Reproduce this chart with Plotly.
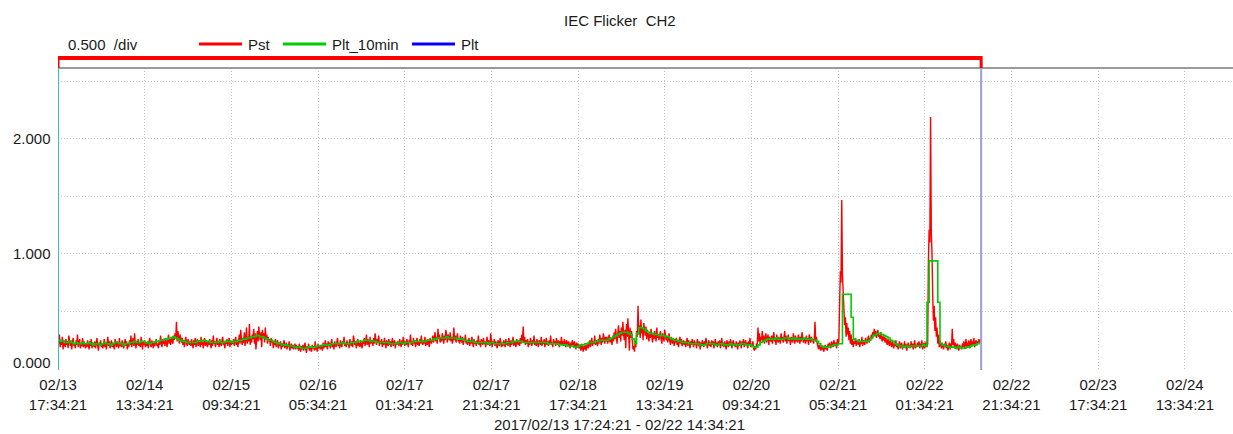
import pandas as pd
import plotly.graph_objects as go

# ---------------------------------------------------------------- data
START = "2017-02-13 17:34:21"          # first 10-minute Pst value
PERIOD_TEXT = "2017/02/13 17:24:21 - 02/22 14:34:21"
TITLE = "IEC Flicker\u00a0\u00a0CH2"
SCALE_TEXT = "0.500\u00a0\u00a0/div"

# Pst, one value every 10 minutes, grouped by calendar day
pst_0213 = [
    0.27, 0.22, 0.30, 0.19, 0.24, 0.21, 0.28, 0.17, 0.25, 0.22, 0.19, 0.26,
    0.21, 0.24, 0.18, 0.29, 0.22, 0.20, 0.25, 0.17, 0.23, 0.27, 0.20, 0.22,
    0.18, 0.25, 0.21, 0.30, 0.19, 0.23, 0.26, 0.18, 0.22, 0.20, 0.27, 0.19,
    0.24, 0.21, 0.18,
]
pst_0214 = [
    0.22, 0.19, 0.25, 0.21, 0.17, 0.24, 0.20, 0.26, 0.18, 0.23, 0.21, 0.19,
    0.24, 0.18, 0.22, 0.27, 0.20, 0.16, 0.23, 0.21, 0.25, 0.19, 0.22, 0.18,
    0.21, 0.26, 0.19, 0.23, 0.17, 0.22, 0.28, 0.20, 0.24, 0.18, 0.21, 0.25,
    0.19, 0.23, 0.20, 0.17, 0.26, 0.22, 0.19, 0.24, 0.21, 0.18, 0.27, 0.20,
    0.23, 0.19, 0.25, 0.21, 0.18, 0.22, 0.26, 0.20, 0.24, 0.17, 0.22, 0.19,
    0.25, 0.21, 0.29, 0.19, 0.23, 0.27, 0.20, 0.31, 0.22, 0.18, 0.24, 0.21,
    0.26, 0.20, 0.23, 0.19, 0.28, 0.22, 0.17, 0.24, 0.21, 0.25, 0.19, 0.22,
    0.20, 0.24, 0.18, 0.23, 0.27, 0.21, 0.19, 0.25, 0.22, 0.18, 0.24, 0.20,
    0.23, 0.26, 0.20, 0.22, 0.18, 0.25, 0.21, 0.29, 0.23, 0.19, 0.26, 0.22,
    0.24, 0.20, 0.27, 0.23, 0.19, 0.25, 0.30, 0.22, 0.26, 0.21, 0.28, 0.24,
    0.22, 0.29, 0.25, 0.31, 0.27, 0.41, 0.24, 0.33, 0.26, 0.22, 0.30, 0.25,
    0.23, 0.27, 0.21, 0.25, 0.19, 0.24, 0.28, 0.22, 0.20, 0.26, 0.23, 0.21,
]
pst_0215 = [
    0.24, 0.20, 0.26, 0.22, 0.18, 0.25, 0.21, 0.27, 0.19, 0.23, 0.26, 0.20,
    0.22, 0.25, 0.19, 0.28, 0.21, 0.24, 0.18, 0.23, 0.27, 0.20, 0.25, 0.22,
    0.19, 0.24, 0.21, 0.26, 0.23, 0.18, 0.25, 0.20, 0.29, 0.22, 0.24, 0.19,
    0.23, 0.27, 0.21, 0.24, 0.19, 0.26, 0.22, 0.20, 0.25, 0.28, 0.21, 0.23,
    0.18, 0.24, 0.22, 0.26, 0.20, 0.23, 0.27, 0.19, 0.25, 0.21, 0.24, 0.22,
    0.26, 0.20, 0.23, 0.28, 0.21, 0.25, 0.19, 0.24, 0.30, 0.22, 0.34, 0.25,
    0.21, 0.27, 0.23, 0.32, 0.20, 0.26, 0.36, 0.22, 0.28, 0.24, 0.39, 0.21,
    0.27, 0.23, 0.30, 0.26, 0.35, 0.22, 0.31, 0.17, 0.28, 0.33, 0.24, 0.37,
    0.29, 0.25, 0.32, 0.19, 0.34, 0.27, 0.31, 0.23, 0.36, 0.26, 0.30, 0.22,
    0.28, 0.24, 0.26, 0.20, 0.27, 0.23, 0.25, 0.18, 0.24, 0.21, 0.26, 0.19,
    0.22, 0.25, 0.18, 0.23, 0.20, 0.24, 0.17, 0.22, 0.19, 0.21, 0.25, 0.18,
    0.20, 0.23, 0.17, 0.21, 0.19, 0.24, 0.16, 0.20, 0.22, 0.18, 0.21, 0.17,
]
pst_0216 = [
    0.19, 0.22, 0.17, 0.21, 0.18, 0.20, 0.16, 0.22, 0.18, 0.15, 0.20, 0.17,
    0.21, 0.16, 0.19, 0.23, 0.17, 0.14, 0.20, 0.18, 0.22, 0.16, 0.19, 0.17,
    0.15, 0.21, 0.18, 0.20, 0.16, 0.24, 0.17, 0.19, 0.15, 0.22, 0.18, 0.20,
    0.17, 0.21, 0.19, 0.16, 0.23, 0.18, 0.20, 0.25, 0.19, 0.22, 0.17, 0.24,
    0.20, 0.23, 0.18, 0.21, 0.26, 0.19, 0.22, 0.17, 0.24, 0.21, 0.19, 0.23,
    0.27, 0.20, 0.22, 0.18, 0.25, 0.21, 0.19, 0.24, 0.22, 0.28, 0.20, 0.23,
    0.19, 0.25, 0.21, 0.23, 0.18, 0.26, 0.22, 0.20, 0.24, 0.19, 0.29, 0.22,
    0.21, 0.24, 0.18, 0.22, 0.26, 0.20, 0.23, 0.19, 0.25, 0.21, 0.18, 0.24,
    0.22, 0.27, 0.20, 0.24, 0.30, 0.21, 0.26, 0.23, 0.19, 0.28, 0.22, 0.25,
    0.24, 0.20, 0.27, 0.22, 0.31, 0.25, 0.21, 0.26, 0.23, 0.29, 0.20, 0.24,
    0.22, 0.26, 0.19, 0.24, 0.21, 0.27, 0.23, 0.18, 0.25, 0.22, 0.20, 0.26,
    0.21, 0.24, 0.19, 0.23, 0.27, 0.20, 0.22, 0.25, 0.18, 0.23, 0.21, 0.24,
]
pst_0217 = [
    0.23, 0.20, 0.26, 0.22, 0.19, 0.25, 0.21, 0.28, 0.23, 0.20, 0.24, 0.21,
    0.26, 0.22, 0.19, 0.25, 0.23, 0.30, 0.21, 0.24, 0.20, 0.27, 0.22, 0.25,
    0.19, 0.23, 0.27, 0.21, 0.24, 0.20, 0.26, 0.22, 0.29, 0.23, 0.21, 0.25,
    0.22, 0.28, 0.20, 0.24, 0.21, 0.26, 0.23, 0.19, 0.27, 0.24, 0.22, 0.25,
    0.29, 0.23, 0.26, 0.32, 0.24, 0.28, 0.22, 0.35, 0.26, 0.30, 0.23, 0.27,
    0.24, 0.31, 0.27, 0.22, 0.29, 0.25, 0.34, 0.26, 0.23, 0.30, 0.27, 0.25,
    0.32, 0.24, 0.28, 0.22, 0.26, 0.36, 0.25, 0.29, 0.23, 0.27, 0.31, 0.24,
    0.26, 0.22, 0.29, 0.25, 0.23, 0.28, 0.21, 0.26, 0.24, 0.30, 0.22, 0.25,
    0.21, 0.24, 0.27, 0.20, 0.25, 0.22, 0.28, 0.23, 0.19, 0.26, 0.22, 0.24,
    0.20, 0.25, 0.22, 0.29, 0.21, 0.24, 0.19, 0.26, 0.23, 0.21, 0.27, 0.22,
    0.24, 0.19, 0.23, 0.28, 0.21, 0.25, 0.22, 0.20, 0.31, 0.23, 0.19, 0.24,
    0.22, 0.26, 0.20, 0.24, 0.21, 0.18, 0.25, 0.23, 0.20, 0.27, 0.22, 0.19,
]
pst_0218 = [
    0.23, 0.20, 0.25, 0.22, 0.19, 0.26, 0.21, 0.24, 0.20, 0.27, 0.22, 0.19,
    0.25, 0.21, 0.23, 0.28, 0.20, 0.24, 0.22, 0.19, 0.26, 0.23, 0.21, 0.25,
    0.20, 0.27, 0.22, 0.30, 0.24, 0.37, 0.23, 0.28, 0.21, 0.25, 0.22, 0.26,
    0.19, 0.24, 0.21, 0.27, 0.23, 0.20, 0.25, 0.22, 0.29, 0.21, 0.24, 0.20,
    0.26, 0.22, 0.19, 0.25, 0.23, 0.21, 0.28, 0.20, 0.24, 0.22, 0.26, 0.19,
    0.23, 0.27, 0.21, 0.24, 0.20, 0.25, 0.22, 0.29, 0.21, 0.23, 0.19, 0.26,
    0.22, 0.24, 0.20, 0.27, 0.23, 0.21, 0.25, 0.19, 0.24, 0.22, 0.28, 0.21,
    0.24, 0.20, 0.26, 0.22, 0.19, 0.25, 0.23, 0.20, 0.24, 0.21, 0.18, 0.23,
    0.20, 0.25, 0.22, 0.19, 0.24, 0.21, 0.17, 0.23, 0.20, 0.22, 0.18, 0.21,
    0.19, 0.16, 0.22, 0.18, 0.15, 0.20, 0.17, 0.21, 0.16, 0.19, 0.23, 0.18,
    0.21, 0.25, 0.19, 0.23, 0.27, 0.20, 0.24, 0.22, 0.29, 0.21, 0.25, 0.23,
    0.20, 0.26, 0.22, 0.30, 0.24, 0.21, 0.27, 0.23, 0.31, 0.25, 0.22, 0.28,
]
pst_0219 = [
    0.24, 0.28, 0.22, 0.26, 0.30, 0.23, 0.27, 0.25, 0.21, 0.29, 0.24, 0.32,
    0.26, 0.35, 0.28, 0.22, 0.31, 0.38, 0.27, 0.33, 0.24, 0.36, 0.29, 0.41,
    0.30, 0.25, 0.34, 0.18, 0.39, 0.28, 0.44, 0.31, 0.16, 0.36, 0.27, 0.33,
    0.22, 0.17, 0.20, 0.15, 0.24, 0.19, 0.33, 0.28, 0.55, 0.30, 0.38, 0.27,
    0.43, 0.31, 0.36, 0.25, 0.40, 0.33, 0.29, 0.37, 0.26, 0.34, 0.30, 0.24,
    0.32, 0.27, 0.35, 0.29, 0.23, 0.31, 0.26, 0.33, 0.28, 0.24, 0.36, 0.27,
    0.30, 0.25, 0.29, 0.33, 0.26, 0.22, 0.31, 0.27, 0.24, 0.34, 0.28, 0.25,
    0.29, 0.23, 0.26, 0.31, 0.24, 0.21, 0.28, 0.25, 0.22, 0.27, 0.20, 0.26,
    0.23, 0.27, 0.21, 0.25, 0.19, 0.24, 0.28, 0.22, 0.26, 0.20, 0.23, 0.25,
    0.21, 0.24, 0.19, 0.23, 0.27, 0.20, 0.25, 0.22, 0.18, 0.24, 0.21, 0.26,
    0.22, 0.19, 0.25, 0.21, 0.23, 0.18, 0.26, 0.22, 0.20, 0.24, 0.17, 0.23,
    0.20, 0.25, 0.22, 0.19, 0.24, 0.21, 0.27, 0.23, 0.18, 0.22, 0.25, 0.20,
]
pst_0220 = [
    0.23, 0.19, 0.25, 0.21, 0.24, 0.18, 0.22, 0.26, 0.20, 0.23, 0.19, 0.24,
    0.21, 0.25, 0.18, 0.22, 0.27, 0.20, 0.23, 0.19, 0.24, 0.21, 0.17, 0.25,
    0.22, 0.19, 0.24, 0.20, 0.26, 0.21, 0.18, 0.23, 0.25, 0.20, 0.22, 0.19,
    0.24, 0.21, 0.17, 0.23, 0.20, 0.25, 0.22, 0.18, 0.24, 0.21, 0.26, 0.19,
    0.22, 0.25, 0.20, 0.23, 0.18, 0.24, 0.21, 0.27, 0.19, 0.22, 0.20, 0.24,
    0.18, 0.16, 0.20, 0.17, 0.22, 0.19, 0.36, 0.24, 0.31, 0.22, 0.28, 0.25,
    0.33, 0.24, 0.29, 0.22, 0.27, 0.31, 0.23, 0.26, 0.30, 0.21, 0.28, 0.25,
    0.24, 0.29, 0.22, 0.27, 0.32, 0.24, 0.26, 0.21, 0.30, 0.25, 0.23, 0.28,
    0.26, 0.22, 0.31, 0.25, 0.28, 0.23, 0.27, 0.33, 0.24, 0.29, 0.22, 0.26,
    0.30, 0.24, 0.27, 0.21, 0.28, 0.25, 0.23, 0.31, 0.26, 0.22, 0.29, 0.24,
    0.27, 0.23, 0.30, 0.25, 0.22, 0.28, 0.24, 0.32, 0.26, 0.23, 0.27, 0.25,
    0.22, 0.29, 0.24, 0.27, 0.21, 0.30, 0.25, 0.23, 0.28, 0.24, 0.26, 0.22,
]
pst_0221 = [
    0.26, 0.41, 0.24, 0.28, 0.22, 0.20, 0.17, 0.21, 0.18, 0.16, 0.20, 0.17,
    0.19, 0.15, 0.18, 0.21, 0.17, 0.20, 0.16, 0.22, 0.19, 0.23, 0.20, 0.18,
    0.24, 0.21, 0.19, 0.25, 0.22, 0.20, 0.23, 0.18, 0.26, 0.21, 0.24, 0.55,
    0.85, 0.75, 1.47, 0.82, 0.70, 0.50, 0.38, 0.45, 0.28, 0.40, 0.30, 0.36,
    0.25, 0.33, 0.22, 0.30, 0.21, 0.26, 0.19, 0.24, 0.22, 0.27, 0.20, 0.25,
    0.23, 0.21, 0.26, 0.19, 0.24, 0.22, 0.28, 0.20, 0.25, 0.23, 0.21, 0.27,
    0.24, 0.22, 0.26, 0.29, 0.23, 0.27, 0.25, 0.30, 0.26, 0.32, 0.28, 0.35,
    0.29, 0.33, 0.27, 0.31, 0.34, 0.28, 0.30, 0.26, 0.32, 0.27, 0.24, 0.29,
    0.25, 0.28, 0.23, 0.27, 0.24, 0.21, 0.26, 0.23, 0.20, 0.25, 0.22, 0.19,
    0.24, 0.21, 0.18, 0.23, 0.20, 0.25, 0.19, 0.22, 0.17, 0.21, 0.24, 0.18,
    0.20, 0.23, 0.17, 0.21, 0.19, 0.24, 0.18, 0.22, 0.16, 0.20, 0.23, 0.19,
    0.21, 0.18, 0.24, 0.19, 0.22, 0.17, 0.20, 0.25, 0.18, 0.21, 0.19, 0.23,
]
pst_0222 = [
    0.20, 0.24, 0.18, 0.22, 0.19, 0.25, 0.17, 0.21, 0.23, 0.18, 0.20, 0.24,
    0.19, 0.22, 0.95, 1.21, 1.10, 2.19, 1.18, 1.00, 0.62, 0.42, 0.55, 0.33,
    0.45, 0.28, 0.36, 0.22, 0.30, 0.19, 0.25, 0.21, 0.18, 0.23, 0.20, 0.17,
    0.22, 0.19, 0.24, 0.18, 0.21, 0.16, 0.20, 0.23, 0.17, 0.22, 0.19, 0.35,
    0.21, 0.26, 0.18, 0.23, 0.20, 0.17, 0.22, 0.19, 0.16, 0.21, 0.18, 0.20,
    0.17, 0.22, 0.19, 0.24, 0.18, 0.21, 0.26, 0.19, 0.23, 0.20, 0.25, 0.18,
    0.22, 0.26, 0.20, 0.24, 0.21, 0.27, 0.19, 0.23, 0.25, 0.21, 0.24, 0.22,
    0.26, 0.23, 0.25, 0.24,
]

# Plt_10min, one value every 30 minutes, grouped by calendar day
plt10_0213 = [0.25, 0.24, 0.24, 0.23, 0.23, 0.24, 0.23, 0.22, 0.23, 0.22, 0.22, 0.23, 0.22]
plt10_0214 = [
    0.22, 0.23, 0.22, 0.21, 0.22, 0.22, 0.21, 0.22, 0.23, 0.22, 0.22, 0.21,
    0.22, 0.23, 0.23, 0.22, 0.22, 0.21, 0.22, 0.22, 0.23, 0.23, 0.24, 0.23,
    0.23, 0.24, 0.24, 0.23, 0.23, 0.22, 0.23, 0.23, 0.24, 0.24, 0.25, 0.25,
    0.26, 0.26, 0.27, 0.27, 0.28, 0.27, 0.26, 0.25, 0.24, 0.24, 0.23, 0.23,
]
plt10_0215 = [
    0.23, 0.23, 0.23, 0.24, 0.24, 0.25, 0.25, 0.24, 0.24, 0.23, 0.23, 0.23,
    0.23, 0.24, 0.23, 0.23, 0.24, 0.24, 0.24, 0.23, 0.24, 0.24, 0.25, 0.25,
    0.26, 0.26, 0.27, 0.27, 0.28, 0.28, 0.29, 0.29, 0.28, 0.28, 0.27, 0.26,
    0.25, 0.25, 0.24, 0.23, 0.22, 0.22, 0.21, 0.21, 0.21, 0.20, 0.20, 0.20,
]
plt10_0216 = [
    0.19, 0.19, 0.19, 0.18, 0.18, 0.18, 0.19, 0.19, 0.19, 0.19, 0.20, 0.20,
    0.20, 0.21, 0.21, 0.21, 0.21, 0.22, 0.22, 0.22, 0.22, 0.22, 0.23, 0.22,
    0.22, 0.22, 0.23, 0.23, 0.23, 0.24, 0.24, 0.24, 0.25, 0.25, 0.25, 0.24,
    0.24, 0.24, 0.23, 0.23, 0.23, 0.23, 0.23, 0.23, 0.22, 0.22, 0.22, 0.22,
]
plt10_0217 = [
    0.23, 0.23, 0.22, 0.23, 0.23, 0.23, 0.23, 0.24, 0.24, 0.24, 0.24, 0.24,
    0.24, 0.25, 0.25, 0.25, 0.26, 0.26, 0.27, 0.27, 0.27, 0.27, 0.28, 0.27,
    0.27, 0.27, 0.27, 0.26, 0.26, 0.26, 0.25, 0.25, 0.24, 0.24, 0.24, 0.23,
    0.23, 0.23, 0.23, 0.23, 0.23, 0.22, 0.23, 0.23, 0.22, 0.22, 0.22, 0.22,
]
plt10_0218 = [
    0.22, 0.22, 0.23, 0.23, 0.23, 0.24, 0.24, 0.24, 0.24, 0.23, 0.23, 0.23,
    0.23, 0.23, 0.23, 0.23, 0.23, 0.23, 0.23, 0.23, 0.23, 0.22, 0.22, 0.22,
    0.22, 0.22, 0.21, 0.21, 0.21, 0.21, 0.20, 0.20, 0.20, 0.19, 0.19, 0.20,
    0.21, 0.21, 0.22, 0.22, 0.23, 0.23, 0.23, 0.24, 0.24, 0.25, 0.25, 0.25,
]
plt10_0219 = [
    0.25, 0.26, 0.27, 0.28, 0.29, 0.30, 0.31, 0.32, 0.32, 0.32, 0.31, 0.30,
    0.26, 0.22, 0.31, 0.36, 0.36, 0.35, 0.33, 0.32, 0.31, 0.31, 0.30, 0.30,
    0.29, 0.29, 0.29, 0.28, 0.28, 0.27, 0.26, 0.25, 0.25, 0.24, 0.24, 0.23,
    0.23, 0.23, 0.22, 0.22, 0.22, 0.22, 0.22, 0.21, 0.21, 0.21, 0.22, 0.22,
]
plt10_0220 = [
    0.22, 0.22, 0.21, 0.21, 0.22, 0.22, 0.21, 0.21, 0.21, 0.22, 0.21, 0.21,
    0.21, 0.21, 0.22, 0.22, 0.21, 0.21, 0.21, 0.20, 0.19, 0.19, 0.21, 0.23,
    0.24, 0.25, 0.26, 0.26, 0.26, 0.26, 0.27, 0.26, 0.26, 0.26, 0.27, 0.27,
    0.26, 0.26, 0.27, 0.26, 0.26, 0.26, 0.26, 0.27, 0.26, 0.26, 0.26, 0.25,
]
plt10_0221 = [
    0.25, 0.24, 0.22, 0.20, 0.19, 0.19, 0.19, 0.20, 0.20, 0.21, 0.21, 0.22,
    0.22, 0.65, 0.65, 0.65, 0.65, 0.45, 0.26, 0.25, 0.24, 0.24, 0.24, 0.24,
    0.24, 0.25, 0.27, 0.29, 0.30, 0.31, 0.31, 0.30, 0.29, 0.28, 0.27, 0.25,
    0.24, 0.22, 0.21, 0.20, 0.20, 0.19, 0.20, 0.19, 0.20, 0.20, 0.20, 0.20,
]
plt10_0222 = [
    0.20, 0.20, 0.21, 0.20, 0.58, 0.94, 0.94, 0.94, 0.94, 0.58, 0.22, 0.21,
    0.20, 0.20, 0.19, 0.19, 0.19, 0.18, 0.19, 0.19, 0.18, 0.18, 0.19, 0.19,
    0.20, 0.21, 0.21, 0.22, 0.23, 0.24,
]

# Plt (2-hour) has no values inside this window
plt_values = []

x_tick_labels = [
    "02/13<br>17:34:21", "02/14<br>13:34:21", "02/15<br>09:34:21",
    "02/16<br>05:34:21", "02/17<br>01:34:21", "02/17<br>21:34:21",
    "02/18<br>17:34:21", "02/19<br>13:34:21", "02/20<br>09:34:21",
    "02/21<br>05:34:21", "02/22<br>01:34:21", "02/22<br>21:34:21",
    "02/23<br>17:34:21", "02/24<br>13:34:21",
]
y_grid_values = [0.0, 0.5, 1.0, 1.5, 2.0, 2.5]
y_label_values = [0.0, 1.0, 2.0]

# ---------------------------------------------------------------- series
pst = (pst_0213 + pst_0214 + pst_0215 + pst_0216 + pst_0217 + pst_0218
       + pst_0219 + pst_0220 + pst_0221 + pst_0222)
plt10 = (plt10_0213 + plt10_0214 + plt10_0215 + plt10_0216 + plt10_0217
         + plt10_0218 + plt10_0219 + plt10_0220 + plt10_0221 + plt10_0222)

pst_time = pd.date_range(START, periods=len(pst), freq="10min")
plt10_time = pd.date_range(START, periods=len(plt10), freq="30min")
tick_time = pd.date_range(START, periods=len(x_tick_labels), freq="20h")
data_start, data_end = pst_time[0], pst_time[-1]

# ---------------------------------------------------------------- layout
W, H = 1233, 434
ML, MR, MT, MB = 58, 0, 68, 64
PW, PH = W - ML - MR, H - MT - MB
FONT = "Liberation Sans, Arial, sans-serif"
TXT = "#1a1a1a"


def px_x(px):
    return (px - ML) / PW


def px_y(py):
    return (H - MB - py) / PH


RED, GREEN, BLUE = "#ff0000", "#00cc00", "#0000ff"

fig = go.Figure()
fig.add_trace(go.Scatter(x=pst_time, y=pst, mode="lines", name="Pst",
                         line=dict(color=RED, width=1.4), showlegend=False))
fig.add_trace(go.Scatter(x=plt10_time, y=plt10, mode="lines", name="Plt_10min",
                         line=dict(color=GREEN, width=1.6, shape="hv"),
                         showlegend=False))
fig.add_trace(go.Scatter(x=[], y=plt_values, mode="lines", name="Plt",
                         line=dict(color=BLUE, width=1.5), showlegend=False))

grid = dict(showgrid=True, gridcolor="#c4c4c4", gridwidth=1, griddash="1px,2px",
            zeroline=False, showline=False, ticks="")

fig.update_xaxes(
    type="date",
    range=[data_start, pd.Timestamp("2017-02-25 00:41:00")],
    tickmode="array", tickvals=tick_time, ticktext=x_tick_labels,
    tickfont=dict(family=FONT, size=15, color=TXT),
    ticklabelstandoff=4,
    **grid,
)
fig.update_yaxes(
    range=[-0.0087, 2.617],
    tickmode="array", tickvals=y_grid_values, showticklabels=False,
    **grid,
)

shapes = [
    # top frame line
    dict(type="line", xref="paper", yref="paper", x0=0, x1=1, y0=1, y1=1,
         line=dict(color="#9a9a9a", width=2)),
    # start / end of recorded data
    dict(type="line", xref="x", yref="paper", x0=data_start, x1=data_start,
         y0=0, y1=1, line=dict(color="#2fc4c4", width=2)),
    dict(type="line", xref="x", yref="paper", x0=data_end, x1=data_end,
         y0=0, y1=1, line=dict(color="#9c9cd6", width=2)),
    # red bracket spanning the recorded period
    dict(type="line", xref="x", yref="paper", x0=data_start, x1=data_end,
         y0=px_y(58), y1=px_y(58), line=dict(color=RED, width=4)),
    dict(type="line", xref="x", yref="paper", x0=data_start, x1=data_start,
         y0=px_y(56), y1=px_y(68), line=dict(color=RED, width=3)),
    dict(type="line", xref="x", yref="paper", x0=data_end, x1=data_end,
         y0=px_y(56), y1=px_y(68), line=dict(color=RED, width=3)),
]

# legend samples
legend_items = [("Pst", RED, 199, 242), ("Plt_10min", GREEN, 283, 326),
                ("Plt", BLUE, 412, 455)]
annotations = []
for name, color, a, b in legend_items:
    shapes.append(dict(type="line", xref="paper", yref="paper",
                       x0=px_x(a), x1=px_x(b), y0=px_y(44), y1=px_y(44),
                       line=dict(color=color, width=3)))
    annotations.append(dict(xref="paper", yref="paper", x=px_x(b + 4), y=px_y(44),
                            text=name, showarrow=False, xanchor="left",
                            yanchor="middle",
                            font=dict(family=FONT, size=15, color=TXT)))

annotations += [
    dict(xref="paper", yref="paper", x=px_x(66), y=px_y(44), text=SCALE_TEXT,
         showarrow=False, xanchor="left", yanchor="middle",
         font=dict(family=FONT, size=15, color=TXT)),
    dict(xref="paper", yref="paper", x=px_x(620), y=px_y(20), text=TITLE,
         showarrow=False, xanchor="center", yanchor="middle",
         font=dict(family=FONT, size=15, color=TXT)),
    dict(xref="paper", yref="paper", x=px_x(619), y=px_y(424), text=PERIOD_TEXT,
         showarrow=False, xanchor="center", yanchor="middle",
         font=dict(family=FONT, size=15, color=TXT)),
]
for v in y_label_values:
    annotations.append(dict(xref="paper", yref="y", x=0, y=v, xshift=-5,
                            yshift=7 if v == 0 else 0, text=f"{v:.3f}",
                            showarrow=False, xanchor="right", yanchor="middle",
                            font=dict(family=FONT, size=15, color=TXT)))

fig.update_layout(
    width=W, height=H,
    margin=dict(l=ML, r=MR, t=MT, b=MB, pad=0),
    paper_bgcolor="white", plot_bgcolor="white",
    showlegend=False,
    shapes=shapes, annotations=annotations,
    font=dict(family=FONT, size=15, color=TXT),
)

fig.write_html("out.html")
